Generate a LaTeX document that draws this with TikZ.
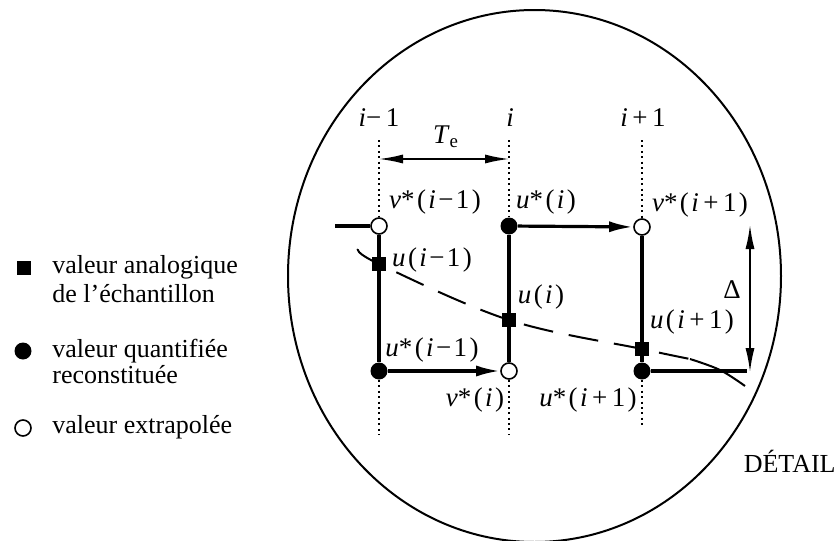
\documentclass[tikz,border=0pt]{standalone}
\usepackage{fontspec}
\setmainfont{Liberation Serif}
\usepackage{tikz}
\usetikzlibrary{arrows.meta,positioning,backgrounds}
\newcommand\gap{\kern1.2pt}
\tikzset{
  hollow/.style={circle,draw,fill=white,line width=.8pt,inner sep=0pt,minimum size=8pt},
  full/.style={circle,fill=black,inner sep=0pt,minimum size=8.5pt},
  sample/.style={rectangle,fill=black,inner sep=0pt,minimum size=7pt},
  lbl/.style={font=\fontsize{13.5}{16}\selectfont,inner sep=1pt},
  legend/.style={font=\fontsize{13}{15}\selectfont,anchor=base west,inner sep=0pt},
  trace/.style={line width=1.6pt},
  jump/.style={line width=1.6pt,-{Latex[length=12pt,width=5.5pt]}},
  guide/.style={line width=1pt,dash pattern=on 1pt off 1.7pt},
  dim/.style={line width=.8pt,{Latex[length=12pt,width=4.5pt]}-{Latex[length=12pt,width=4.5pt]}},
  signal/.style={line width=1pt,dash pattern=on 15pt off 8pt}
}

\begin{document}
\begin{tikzpicture}[x=0.5pt,y=-0.5pt]
\useasboundingbox (0,0) rectangle (837,541);

% legend
\node[sample] (mkSq) at (24,268) {};
\node[legend] (tSq1) at (52,273) {valeur analogique};
\node[legend] (tSq2) at (52,302) {de l'échantillon};
\node[full] (mkFull) at (23,351) {};
\node[legend] (tFull1) at (52,357) {valeur quantifiée};
\node[legend] (tFull2) at (52,383) {reconstituée};
\node[hollow] (mkHollow) at (23,428) {};
\node[legend] (tHollow) at (52,433) {valeur extrapolée};

% detail
\draw[line width=1pt] (534.5,276) ellipse [x radius=123.25pt, y radius=133pt];

\node[hollow] (vA) at (379,226) {};
\node[sample] (sA) at (379,264) {};
\node[full] (uA) at (379,371) {};
\node[full] (uB) at (509,226) {};
\node[sample] (sB) at (509,320) {};
\node[hollow] (vB) at (509,371) {};
\node[hollow] (vC) at (642,227) {};
\node[sample] (sC) at (642,349) {};
\node[full] (uC) at (642,371) {};

\coordinate (lead) at (335,226);
\coordinate (dEnd) at (747,371);
\coordinate (topA) at (379,140);
\coordinate (botA) at (379,435);
\coordinate (topB) at (509,140);
\coordinate (botB) at (509,435);
\coordinate (topC) at (642,140);
\coordinate (botC) at (642,428);
\coordinate (tcL) at (379,159);
\coordinate (tcR) at (509,159);
\coordinate (dTop) at (750,225);
\coordinate (dBot) at (750,372);
\coordinate (curveIn) at (358,249);
\coordinate (curveMid) at (690,359);
\coordinate (curveBend) at (720,370);
\coordinate (curveOut) at (745,386);

\begin{scope}[on background layer]
\draw[guide] (topA) -- (vA);
\draw[guide] (uA) -- (botA);
\draw[guide] (topB) -- (uB);
\draw[guide] (vB) -- (botB);
\draw[guide] (topC) -- (vC);
\draw[guide] (uC) -- (botC);
\draw[signal] plot[smooth,tension=.6] coordinates {(curveIn) (sA) (sB) (sC) (curveMid)};
\draw[line width=1pt] plot[smooth,tension=.6] coordinates {(curveMid) (curveBend) (curveOut)};
\draw[trace] (lead) -- (vA) -- (uA);
\draw[trace] (uB) -- (vB);
\draw[trace] (vC) -- (uC);
\draw[trace] (uC) -- (dEnd);
\draw[jump] (uA) -- (vB);
\draw[jump] (uB) -- (vC);
\end{scope}
\draw[dim] (tcL) -- (tcR);
\draw[dim] (dTop) -- (dBot);

% labels
\node[lbl] (lA) at (379,118) {\textit{i}−\,1};
\node[lbl] (lB) at (510,118) {\textit{i}};
\node[lbl] (lC) at (643,118) {\textit{i}\,+\,1};
\node[lbl] (lTc) at (446,137) {\textit{T}\textsubscript{e}};
\node[lbl] (lvA) at (435,202) {\textit{v}*\gap(\gap\textit{i}\gap−\gap1\gap)};
\node[lbl] (luB) at (546,202) {\textit{u}*\gap(\gap\textit{i}\gap)};
\node[lbl] (lvC) at (700,205) {\textit{v}*\gap(\gap\textit{i}\,+\,1\gap)};
\node[lbl] (lsA) at (432,260) {\textit{u}\gap(\gap\textit{i}\gap−\gap1\gap)};
\node[lbl] (lsB) at (541,297) {\textit{u}\gap(\gap\textit{i}\gap)};
\node[lbl] (lsC) at (692,322) {\textit{u}\gap(\gap\textit{i}\,+\,1\gap)};
\node[lbl] (luA) at (432,350) {\textit{u}*\gap(\gap\textit{i}\gap−\gap1\gap)};
\node[lbl] (lvB) at (475,400) {\textit{v}*\gap(\gap\textit{i}\gap)};
\node[lbl] (luC) at (588,400) {\textit{u}*\gap(\gap\textit{i}\,+\,1\gap)};
\node[lbl] (lDelta) at (732,290) {Δ};
\node[legend,anchor=base east] (lDetail) at (836,472) {DÉTAIL};
\end{tikzpicture}
\end{document}
